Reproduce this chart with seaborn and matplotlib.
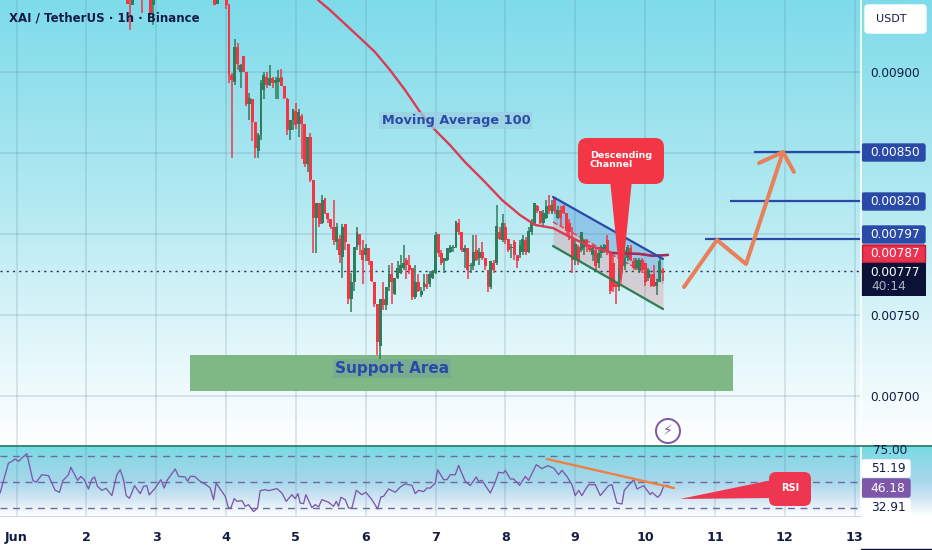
import numpy as np
import pandas as pd
import seaborn as sns
import matplotlib.pyplot as plt
from matplotlib.colors import LinearSegmentedColormap
from matplotlib.patches import FancyBboxPatch, Polygon, Rectangle

# prices are in units of 0.00001 USDT, candles are hourly
early_hours = [38, 39, 40, 43, 46, 47, 68, 69]
early_open = [950, 952, 941, 950, 950, 941, 950, 942]
early_close = [942, 948, 950, 946, 936, 950, 941, 950]
early_high = [955, 955, 955, 955, 955, 955, 955, 955]
early_low = [942, 926, 941, 936, 935, 929, 941, 942]

first_hour = 72
opens = [944, 941, 898, 894, 915, 900, 910, 900, 880, 883, 869, 851, 861, 889, 897, 892, 896, 893, 894, 897,
         891, 883, 864, 870, 876, 868, 873, 868, 843, 860, 833, 810, 819, 807, 822, 813, 809, 804, 795, 797,
         786, 806, 794, 760, 770, 792, 800, 790, 787, 791, 783, 770, 757, 731, 760, 756, 767, 775, 763, 773,
         776, 779, 784, 781, 779, 761, 770, 762, 767, 769, 769, 773, 776, 800, 788, 783, 784, 789, 791, 792,
         807, 801, 789, 791, 780, 780, 790, 785, 789, 785, 778, 767, 782, 782, 801, 796, 804, 797, 791, 795,
         787, 787, 789, 796, 789, 801, 807, 817, 814, 807, 810, 818, 813, 822, 810, 815, 817, 813, 807, 796,
         784, 792, 790, 791, 796, 792, 787, 790, 782, 788, 790, 796, 788, 782, 769, 767, 778, 780, 785, 791,
         783, 779, 778, 784, 782, 773, 773, 775, 768, 770, 778]
closes = [941, 898, 895, 915, 905, 904, 900, 880, 884, 869, 853, 861, 893, 898, 892, 896, 893, 895, 896, 891,
          884, 864, 870, 877, 867, 875, 868, 843, 860, 833, 810, 819, 806, 821, 813, 809, 804, 796, 804, 787,
          804, 795, 760, 770, 792, 801, 793, 784, 791, 783, 771, 757, 733, 760, 756, 767, 775, 770, 773, 779,
          781, 782, 781, 778, 761, 770, 765, 765, 770, 767, 775, 777, 799, 788, 782, 785, 791, 792, 792, 808,
          801, 790, 791, 778, 781, 789, 784, 789, 785, 780, 768, 783, 778, 805, 797, 807, 796, 790, 792, 787,
          783, 793, 797, 789, 802, 807, 819, 814, 807, 813, 817, 814, 818, 814, 815, 810, 813, 802, 801, 784,
          794, 784, 801, 796, 792, 790, 791, 780, 788, 792, 793, 788, 765, 767, 767, 779, 783, 785, 792, 784,
          779, 784, 784, 778, 770, 778, 768, 768, 770, 783, 776]
highs = [946, 942, 899, 920, 918, 905, 910, 900, 887, 883, 869, 862, 895, 900, 900, 904, 897, 897, 901, 902,
         891, 884, 870, 877, 881, 877, 874, 868, 860, 862, 833, 819, 819, 824, 822, 813, 809, 821, 807, 799,
         806, 806, 794, 776, 792, 804, 800, 796, 794, 791, 783, 770, 757, 760, 770, 767, 781, 782, 773, 783,
         787, 793, 785, 787, 779, 781, 775, 767, 775, 775, 777, 778, 801, 800, 790, 785, 791, 793, 793, 808,
         809, 801, 793, 791, 782, 799, 799, 791, 795, 785, 778, 783, 784, 818, 804, 812, 807, 797, 794, 796,
         787, 796, 799, 798, 804, 809, 819, 818, 814, 815, 821, 824, 821, 823, 817, 817, 818, 813, 809, 804,
         796, 793, 801, 797, 797, 793, 793, 791, 790, 793, 794, 799, 788, 787, 770, 783, 785, 790, 793, 793,
         785, 785, 785, 785, 782, 779, 775, 781, 772, 785, 779]
lows = [939, 893, 847, 892, 901, 890, 900, 879, 870, 857, 847, 847, 858, 883, 890, 891, 890, 883, 883, 891,
        883, 861, 858, 864, 865, 860, 846, 841, 838, 832, 788, 788, 804, 806, 812, 807, 803, 793, 790, 782,
        773, 790, 757, 752, 765, 790, 787, 769, 783, 781, 770, 755, 725, 723, 753, 753, 765, 757, 762, 772,
        775, 778, 772, 775, 759, 760, 764, 761, 765, 766, 767, 772, 775, 786, 781, 776, 783, 788, 789, 791,
        799, 789, 779, 772, 776, 778, 783, 781, 784, 778, 764, 766, 776, 781, 796, 795, 794, 789, 785, 784,
        779, 785, 787, 787, 788, 799, 806, 813, 806, 805, 809, 812, 812, 812, 809, 805, 812, 799, 796, 776,
        781, 781, 789, 787, 789, 789, 783, 778, 779, 785, 788, 787, 763, 764, 757, 765, 776, 778, 783, 783,
        778, 778, 776, 776, 768, 771, 767, 767, 762, 770, 771]

# moving average 100
ma_day = [5.316, 5.488, 5.703, 5.918, 6.132, 6.347, 6.562, 6.777, 6.992, 7.206, 7.421, 7.679, 7.951, 8.209,
          8.423, 8.681, 8.924, 9.168, 9.54, 9.926, 10.112, 10.327]
ma_price = [944.3, 938.1, 929.5, 920.9, 912.2, 901.1, 888.8, 875.2, 864.1, 854.8, 844.3, 833.2, 820.9, 811.6,
            805.5, 803.6, 798.1, 793.1, 788.2, 787.6, 786.4, 787.0]

# rsi
rsi_day = [.766, .804, .885, .933, .981, 1.029, 1.076, 1.148, 1.234, 1.282, 1.363, 1.458, 1.554, 1.616, 1.663,
           1.745, 1.778, 1.874, 1.921, 1.969, 2.031, 2.079, 2.117, 2.16, 2.222, 2.284, 2.365, 2.437, 2.485, 2.532,
           2.57, 2.618, 2.69, 2.771, 2.819, 2.866, 2.9, 2.986, 3.067, 3.115, 3.153, 3.272, 3.32, 3.415, 3.449,
           3.487, 3.549, 3.63, 3.726, 3.773, 3.821, 3.859, 3.94, 3.988, 4.036, 4.069, 4.117, 4.155, 4.227, 4.274,
           4.322, 4.394, 4.451, 4.489, 4.561, 4.609, 4.728, 4.8, 4.862, 4.943, 4.99, 5.029, 5.062, 5.11, 5.143,
           5.229, 5.277, 5.325, 5.372, 5.468, 5.539, 5.578, 5.611, 5.644, 5.706, 5.754, 5.802, 5.864, 5.945, 6.002,
           6.088, 6.17, 6.217, 6.255, 6.327, 6.422, 6.494, 6.566, 6.661, 6.709, 6.757, 6.828, 6.876, 6.924, 6.995,
           7.029, 7.115, 7.162, 7.21, 7.282, 7.33, 7.353, 7.425, 7.496, 7.582, 7.615, 7.663, 7.783, 7.854, 7.902,
           7.974, 7.997, 8.069, 8.117, 8.203, 8.284, 8.332, 8.441, 8.523, 8.604, 8.69, 8.761, 8.809, 8.88, 8.952,
           8.999, 9.048, 9.095, 9.143, 9.191, 9.286, 9.358, 9.477, 9.525, 9.596, 9.668, 9.701, 9.835, 9.883, 9.978,
           10.074, 10.098, 10.179, 10.217, 10.265, 10.313, 10.37]
rsi_value = [39.4, 49, 68.2, 69.8, 72.1, 69.8, 73, 77.2, 51.6, 49.7, 57, 56.1, 42, 40.1, 51.3,
             57, 64.1, 51.6, 55.4, 52.2, 43.3, 52.9, 54.8, 45.8, 42, 43.9, 36.9, 57, 61.8, 52.2,
             36.9, 34.3, 46.5, 38.8, 45.8, 46.5, 37.5, 44.2, 52.2, 44.2, 51.3, 62.5, 55.4, 54.8, 50.6,
             55.4, 55.4, 50.6, 46.8, 44.2, 33, 49, 41, 36.2, 25, 25, 34, 31.4, 32.1, 26.6,
             28.2, 21.5, 25, 41.7, 42.6, 41.7, 43.6, 39.4, 31.4, 37.8, 34, 38.8, 29.8, 29.2, 37.8,
             25.4, 28.2, 26, 33, 30.5, 26.6, 31.4, 26.6, 35.3, 33, 25, 25, 42, 37.8, 40.1,
             33, 24.1, 35.6, 36.2, 43.3, 40.1, 45.2, 48.1, 46.8, 38.8, 42, 40.7, 44.2, 44.2, 49,
             61.8, 52.2, 52.2, 57, 57, 66, 61.8, 50.6, 46.5, 54.8, 50.6, 51.6, 39.4, 50, 59.3,
             58.6, 61.2, 52.9, 52.9, 46.8, 55.4, 51.6, 66.6, 62.8, 65.7, 63.4, 57, 61.2, 55.4, 47.4,
             36.9, 42, 36.9, 42.6, 47.4, 47.4, 36.9, 46.5, 47.4, 29.8, 28.9, 42, 52.2, 43.3, 46.5,
             37.8, 40.1, 35.3, 37.8, 45.8, 46.8, 44.9]
rsi_levels = [75, 50, 25]
rsi_trend_day = [8.594, 10.413]
rsi_trend_value = [72.1, 44.2]

# drawings on the price pane
channel_day = [8.681, 10.256]
channel_top = [822.8, 784.5]
channel_mid = [807.3, 769.7]
channel_bottom = [792.5, 753.6]
target_levels = [850.5, 820.3, 797.0]
target_starts = [11.565, 11.22, 10.857]
path_day = [10.556, 11.028, 11.444, 11.973]
path_price = [767.2, 796.2, 781.4, 850.5]
head_day = [11.63, 11.973, 12.13]
head_price = [843.7, 850.5, 838.2]
support_days = [3.484, 11.258]
support_prices = [703.1, 725.3]
last_price = 777

price_ticks = [700, 750, 800, 850, 900]
price_labels = ['0.00700', '0.00750', '', '', '0.00900']
day_ticks = list(range(1, 14))
day_labels = ['Jun'] + [str(d) for d in range(2, 14)]

INK = '#131c45'
BLUE = '#2a4aa8'
RED = '#f23645'
GREEN = '#2e7d5b'
PURPLE = '#7e57a8'
ORANGE = '#e8805a'

sns.set_theme(style='white', font='DejaVu Sans')

fig = plt.figure(figsize=(9.32, 5.5), dpi=100, facecolor='white')

# background gradients, in pixels of the figure
bg = fig.add_axes([0, 0, 1, 1], zorder=0)
bg.axis('off')
main_cm = LinearSegmentedColormap.from_list('m', [(0, '#7edbea'), (.45, '#b2e9f1'), (.76, '#e0f6fa'), (1, '#ffffff')])
rsi_cm = LinearSegmentedColormap.from_list('r', [(0, '#72dce6'), (.2, '#8fd8e6'), (.5, '#a5d7eb'), (.78, '#d7e8f5'), (.95, '#f5fafc'), (1, '#ffffff')])
ramp = np.linspace(0, 1, 256).reshape(-1, 1)
bg.imshow(ramp, cmap=main_cm, extent=[0, 932, 446, 0], aspect='auto')
bg.imshow(ramp, cmap=rsi_cm, extent=[0, 932, 516, 446], aspect='auto')
bg.set_xlim(0, 932)
bg.set_ylim(550, 0)

ax = fig.add_axes([0, 104 / 550, 861 / 932, 446 / 550], zorder=1)
rsi = fig.add_axes([0, 34 / 550, 861 / 932, 70 / 550], zorder=1)
xlim = (1 - 16.5 / 69.85, 1 + (861 - 16.5) / 69.85)

for a in (ax, rsi):
    a.patch.set_alpha(0)
    a.set_xlim(xlim)
    a.set_xticks(day_ticks)
    a.grid(True, axis='x', color='#5a82a0', alpha=.22, lw=1.2)
    a.tick_params(length=0)
    a.set_axisbelow(True)
    sns.despine(ax=a, left=True, right=True, top=True, bottom=True)

# price pane
ax.set_ylim(669.1, 944.3)
ax.set_yticks(price_ticks)
ax.set_yticklabels(price_labels, color=INK, fontsize=8.7)
ax.yaxis.tick_right()
ax.tick_params(axis='y', pad=7)
ax.set_xticklabels([])
ax.grid(True, axis='y', color='#5a82a0', alpha=.22, lw=1.2)

ax.fill_between(support_days, support_prices[0], support_prices[1], color='#80b885', lw=0, zorder=1.5)
ax.fill_between(channel_day, channel_mid, channel_top, color='#2f78d0', alpha=.3, lw=0, zorder=1.6)
ax.fill_between(channel_day, channel_bottom, channel_mid, color='#f04a55', alpha=.2, lw=0, zorder=1.6)

candles = pd.DataFrame({
    'hour': early_hours + list(range(first_hour, first_hour + len(opens))),
    'open': early_open + opens,
    'close': early_close + closes,
    'high': early_high + highs,
    'low': early_low + lows,
})
candles['day'] = 1 + candles['hour'] / 24
candles['color'] = np.where(candles['close'] >= candles['open'], GREEN, RED)
ax.vlines(candles['day'], candles['low'], candles['high'], colors=candles['color'], lw=1.1, zorder=3)
ax.bar(candles['day'], candles['close'] - candles['open'], bottom=candles['open'], width=1 / 24,
       color=candles['color'], lw=0, zorder=3.1)

sns.lineplot(x=ma_day, y=ma_price, ax=ax, color='#dc3a55', lw=1.7, zorder=3.5, estimator=None, sort=False)
sns.lineplot(x=ma_day[18:], y=ma_price[18:], ax=ax, color='#a02c58', lw=1.7, zorder=3.55, estimator=None, sort=False)
ax.axhline(last_price, color='#2c3350', lw=1, ls=(0, (1.5, 3)), zorder=2)

sns.lineplot(x=channel_day, y=channel_top, ax=ax, color=BLUE, lw=1.6, zorder=3.6, estimator=None)
sns.lineplot(x=channel_day, y=channel_bottom, ax=ax, color='#2c7d50', lw=1.6, zorder=3.6, estimator=None)
sns.lineplot(x=channel_day, y=channel_mid, ax=ax, color=RED, lw=1, ls='--', zorder=2.5, estimator=None)

for level, start in zip(target_levels, target_starts):
    ax.plot([start, xlim[1]], [level, level], color=BLUE, lw=1.6, zorder=4, solid_capstyle='butt')
sns.lineplot(x=path_day, y=path_price, ax=ax, color=ORANGE, lw=2.9, zorder=4.1, estimator=None, sort=False)
sns.lineplot(x=head_day, y=head_price, ax=ax, color=ORANGE, lw=2.9, zorder=4.1, estimator=None, sort=False)

ax.text(7.29, 870, 'Moving Average 100', color=BLUE, fontsize=9.3, fontweight='bold', ha='center', va='center', zorder=5,
        bbox=dict(fc='#9bcfe2', ec='none', alpha=.75, pad=1.5))
ax.text(6.38, 717, 'Support Area', color=BLUE, fontsize=11, fontweight='bold', ha='center', va='center', zorder=5,
        bbox=dict(fc='#78ab90', ec='none', pad=1.5))
ax.text(.89, 933, 'XAI / TetherUS · 1h · Binance', color=INK, fontsize=8.5, fontweight='bold', va='center', zorder=5)

# rsi pane
rsi.set_ylim(17.3, 84.6)
rsi.set_yticks([])
rsi.set_xticklabels(day_labels, color=INK, fontsize=9.2, fontweight='bold')
rsi.tick_params(axis='x', pad=11)
for level in rsi_levels:
    rsi.axhline(level, color='#6f6a9c', lw=1, ls=(0, (5, 4)), zorder=2)
sns.lineplot(x=rsi_day, y=rsi_value, ax=rsi, color=PURPLE, lw=.95, zorder=3, estimator=None, sort=False)
sns.lineplot(x=rsi_trend_day, y=rsi_trend_value, ax=rsi, color='#f08040', lw=1.7, zorder=4, estimator=None)

# scale badges and callouts, in pixels of the figure
chrome = fig.add_axes([0, 0, 1, 1], zorder=3)
chrome.set_xlim(0, 932)
chrome.set_ylim(550, 0)
chrome.axis('off')

chrome.plot([861, 861], [0, 516], color='white', lw=1.2)
chrome.plot([0, 932], [446, 446], color='#2f7f6f', lw=1.3)
chrome.plot([0, 861], [516, 516], color='#cfd8e3', lw=.8)
chrome.plot([861, 932], [548.5, 548.5], color='#0a1238', lw=1)


def badge(y0, y1, text, fc, color='white', x0=861, x1=926):
    chrome.add_patch(FancyBboxPatch((x0 + 1, y0 + 1), x1 - x0 - 2, y1 - y0 - 2, boxstyle='round,pad=0,rounding_size=2',
                                    fc=fc, ec=fc, lw=1))
    chrome.text((x0 + x1) / 2 + 2, (y0 + y1) / 2, text, color=color, fontsize=8.7, ha='center', va='center')


chrome.add_patch(FancyBboxPatch((865, 5), 61, 28, boxstyle='round,pad=0,rounding_size=3', fc='white', ec='white'))
chrome.text(891, 19, 'USDT', color=INK, fontsize=8, ha='center', va='center')
badge(143, 162, '0.00850', BLUE)
badge(192, 211, '0.00820', BLUE)
badge(225, 244, '0.00797', BLUE)
badge(244, 263, '0.00787', '#ea3350')
chrome.add_patch(Rectangle((862, 245), 63, 17, fc='none', ec='#b8203a', lw=1))
chrome.add_patch(Rectangle((861, 263), 65, 33, fc='#0a1238', ec='none'))
chrome.text(895, 272, '0.00777', color='white', fontsize=8.7, ha='center', va='center')
chrome.text(871, 287, '40:14', color='#b0b4c4', fontsize=8.7, ha='left', va='center')

chrome.text(890, 451, '75.00', color=INK, fontsize=8.7, ha='center', va='center')
badge(459, 478, '51.19', 'white', INK, x1=911)
badge(478, 498, '46.18', PURPLE, 'white', x1=911)
badge(498, 517, '32.91', 'white', INK, x1=911)

chrome.add_patch(Polygon([(610, 180), (632, 180), (621, 288)], fc=RED, ec='none'))
chrome.add_patch(FancyBboxPatch((578, 138), 86, 46, boxstyle='round,pad=0,rounding_size=9', fc=RED, ec='none'))
chrome.text(590, 160, 'Descending\nChannel', color='white', fontsize=6.8, fontweight='bold', ha='left', va='center',
            linespacing=1.1)

chrome.add_patch(Polygon([(772, 480), (772, 498), (680, 499)], fc='#ee3650', ec='none'))
chrome.add_patch(FancyBboxPatch((769, 472), 42, 34, boxstyle='round,pad=0,rounding_size=7', fc='#ee3650', ec='none'))
chrome.text(790, 488, 'RSI', color='white', fontsize=7, ha='center', va='center', fontweight='bold')

chrome.scatter([668], [431], s=300, fc='none', ec=PURPLE, lw=1.4)
chrome.text(668, 431, '\u26a1', color=PURPLE, fontsize=10, ha='center', va='center')

fig.savefig('out.png', dpi=100)
